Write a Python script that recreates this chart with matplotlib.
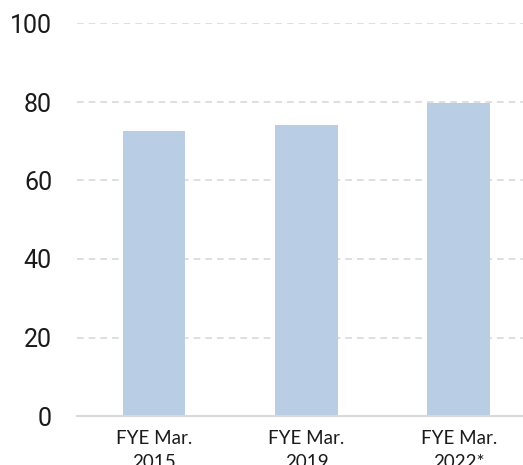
""" Bar chart of three fiscal year values.
"""

import matplotlib
matplotlib.use('Agg')
import matplotlib.pyplot as plt

categories = ['FYE Mar.\n2015', 'FYE Mar.\n2019', 'FYE Mar.\n2022*']
values = [72.6, 74.1, 79.7]
yticks = [0, 20, 40, 60, 80, 100]

bar_color = '#b9cde5'
grid_color = '#d9d9d9'

fig = plt.figure(figsize=(5.23, 4.65), dpi=100)
ax = fig.add_axes([77 / 523, 1 - 416 / 465, 1 - 77 / 523, 392.5 / 465])

positions = list(range(len(categories)))
ax.bar(positions, values, width=0.413, color=bar_color, zorder=2)

ax.set_ylim(0, 100)
ax.set_xlim(-0.505, 2.42)
ax.set_yticks(yticks)
ax.set_yticklabels([str(t) for t in yticks], fontsize=18,
                   fontfamily='Roboto', color='#1a1a1a')
ax.set_xticks(positions)
ax.set_xticklabels(categories, fontsize=13.5, fontfamily='Lato',
                   color='#1a1a1a', linespacing=1.5)

ax.yaxis.grid(True, color=grid_color, linestyle=(0, (4, 3)), linewidth=1.2,
              zorder=0)
ax.set_axisbelow(True)

for side in ['top', 'right', 'left']:
    ax.spines[side].set_visible(False)
ax.spines['bottom'].set_color(grid_color)
ax.spines['bottom'].set_linewidth(1.5)
ax.spines['bottom'].set_zorder(3)

ax.tick_params(axis='y', length=0, pad=18)
ax.tick_params(axis='x', length=0, pad=10)

fig.savefig('out.png', dpi=100)
